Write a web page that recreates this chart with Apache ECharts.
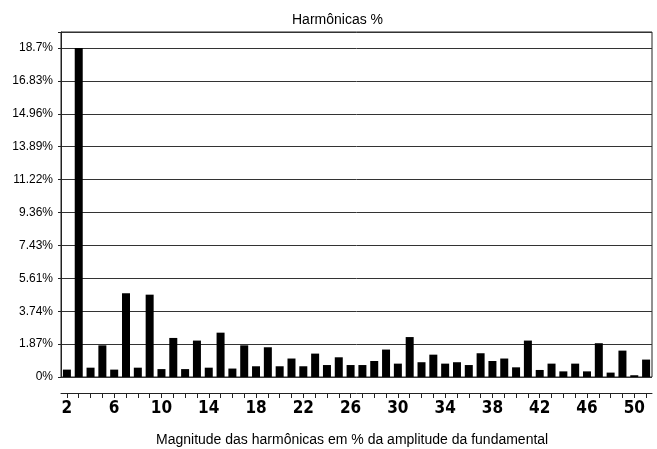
<!DOCTYPE html>
<html>
<head>
<meta charset="utf-8">
<script src="https://cdn.jsdelivr.net/npm/echarts@6/dist/echarts.min.js"></script>
<style>
  html, body { margin: 0; padding: 0; background: #fff; }
  #chart { width: 657px; height: 449px; }
</style>
</head>
<body>
<div id="chart"></div>
<script>
// Harmonic orders 2..51
const harmonics = [];
for (let h = 2; h <= 51; h++) harmonics.push(String(h));

// Magnitude of each harmonic, % of the fundamental amplitude
const magnitudes = [
  0.42, 18.7, 0.53, 1.80, 0.42, 4.76, 0.53, 4.68, 0.45, 2.22,
  0.45, 2.07, 0.53, 2.52, 0.48, 1.80, 0.61, 1.69, 0.61, 1.05,
  0.61, 1.33, 0.68, 1.12, 0.68, 0.68, 0.91, 1.56, 0.76, 2.27,
  0.84, 1.27, 0.76, 0.84, 0.68, 1.35, 0.91, 1.05, 0.55, 2.07,
  0.40, 0.76, 0.32, 0.76, 0.32, 1.92, 0.25, 1.50, 0.10, 0.99
];

// Gridline step and the labels printed on each gridline
const yStep = 1.87;
const yTickLabels = [
  '0%', '1.87%', '3.74%', '5.61%', '7.43%', '9.36%',
  '11.22%', '13.89%', '14.96%', '16.83%', '18.7%'
];
// headroom above the last gridline, inside the frame
const yTop = 19.61;

const chart = echarts.init(document.getElementById('chart'), null, { renderer: 'canvas' });

chart.setOption({
  backgroundColor: '#ffffff',
  animation: false,
  title: [
    {
      text: 'Harmônicas %',
      left: 287,
      top: 8,
      textStyle: { fontFamily: 'Liberation Sans, Arial, sans-serif', fontSize: 14, fontWeight: 'normal', color: '#000' }
    },
    {
      text: 'Magnitude das harmônicas em % da amplitude da fundamental',
      left: 151,
      top: 428,
      textStyle: { fontFamily: 'Liberation Sans, Arial, sans-serif', fontSize: 14, fontWeight: 'normal', color: '#000' }
    }
  ],
  grid: {
    left: 61,
    right: 5,
    top: 32,
    bottom: 72,
    show: true,
    borderColor: '#222',
    borderWidth: 1,
    backgroundColor: 'transparent'
  },
  xAxis: {
    type: 'category',
    data: harmonics,
    boundaryGap: true,
    offset: 16,
    axisLine: { show: true, onZero: false, lineStyle: { color: '#222', width: 1 } },
    axisTick: {
      show: true,
      alignWithLabel: true,
      interval: 0,
      length: 5,
      lineStyle: { color: '#222' }
    },
    axisLabel: {
      interval: function (idx) { return idx % 4 === 0; },
      margin: 7,
      fontFamily: 'DejaVu Sans Condensed, Liberation Sans Narrow, sans-serif',
      fontWeight: 'bold',
      fontSize: 17,
      color: '#000'
    },
    splitLine: { show: false }
  },
  yAxis: {
    type: 'value',
    min: 0,
    max: yTop,
    interval: yStep,
    axisLine: { show: true, lineStyle: { color: '#222', width: 1 } },
    axisTick: { show: true, length: 3, lineStyle: { color: '#222' } },
    axisLabel: {
      margin: 8,
      fontFamily: 'Liberation Sans, Arial, sans-serif',
      fontSize: 12,
      color: '#000',
      formatter: function (v) {
        const i = Math.round(v / yStep);
        if (Math.abs(v - i * yStep) > 0.01 || i >= yTickLabels.length) return '';
        return yTickLabels[i];
      }
    },
    splitLine: { show: true, lineStyle: { color: '#333', width: 1 } }
  },
  series: [
    {
      type: 'bar',
      data: magnitudes,
      barWidth: 8,
      itemStyle: { color: '#000' }
    }
  ]
});
</script>
</body>
</html>
